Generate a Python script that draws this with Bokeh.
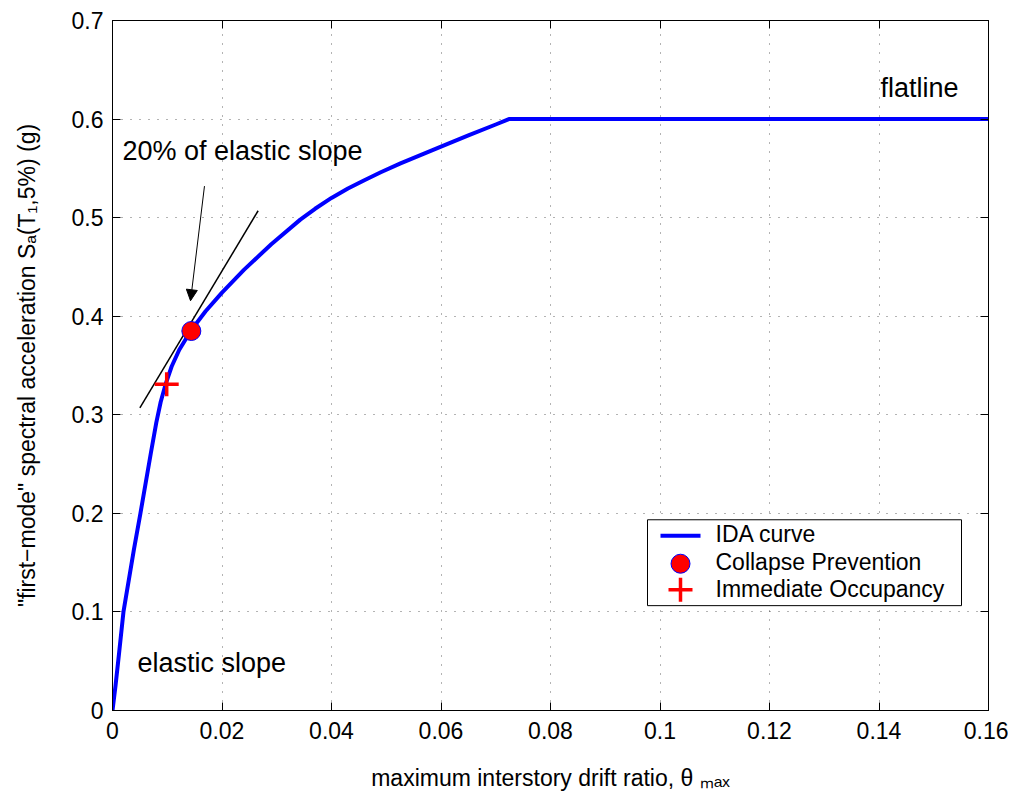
import math
from bokeh.plotting import figure
from bokeh.models import Range1d, LinearAxis, FixedTicker, Label, Arrow, NormalHead
from bokeh.embed import file_html
from bokeh.resources import INLINE

# ---------------- data ----------------
ida_x = [0.0, 0.00055, 0.0012, 0.0020, 0.0039, 0.0051, 0.0070, 0.0080, 0.0088, 0.0097,
         0.0108, 0.0122, 0.0144, 0.0170, 0.0200, 0.0240, 0.0290, 0.0343, 0.0370, 0.0400,
         0.0430, 0.0460, 0.0490, 0.0526, 0.0600, 0.0650, 0.0700, 0.0724, 0.16]
ida_y = [0.0, 0.025, 0.058, 0.100, 0.163, 0.200, 0.261, 0.292, 0.313, 0.331,
         0.349, 0.366, 0.386, 0.405, 0.424, 0.447, 0.473, 0.498, 0.509, 0.520,
         0.5295, 0.538, 0.546, 0.555, 0.572, 0.5835, 0.5945, 0.600, 0.600]
cp_x = [0.0144]
cp_y = [0.385]
io_x = [0.0099]
io_y = [0.331]
tangent_x = [0.0050, 0.0266]
tangent_y = [0.307, 0.507]
arrow_from = [0.0168, 0.532]
arrow_to = [0.01425, 0.4157]

x_ticks = [0.0, 0.02, 0.04, 0.06, 0.08, 0.10, 0.12, 0.14, 0.16]
x_tick_labels = ["0", "0.02", "0.04", "0.06", "0.08", "0.1", "0.12", "0.14", "0.16"]
y_ticks = [0.0, 0.1, 0.2, 0.3, 0.4, 0.5, 0.6, 0.7]
y_tick_labels = ["0", "0.1", "0.2", "0.3", "0.4", "0.5", "0.6", "0.7"]
legend_labels = ["IDA curve", "Collapse Prevention", "Immediate Occupancy"]
x_title = "maximum interstory drift ratio, \u03b8 \u2098\u2090\u2093"
y_title = '"first\u2212mode" spectral acceleration S\u2090(T\u2081,5%) (g)'

# ---------------- layout ----------------
FONT = "Liberation Sans"
L, R, T, B = 112, 20, 20, 82
W, H = 988 + R, 711 + B
XMIN, XMAX, YMIN, YMAX = 0.0, 0.16, 0.0, 0.7
FW, FH = W - L - R, H - T - B


def dx(px):  # picture pixel -> data x
    return XMIN + (px - L) / FW * (XMAX - XMIN)


def dy(py):  # picture pixel -> data y
    return YMIN + (H - B - py) / FH * (YMAX - YMIN)


p = figure(width=W, height=H, x_range=Range1d(XMIN, XMAX), y_range=Range1d(YMIN, YMAX),
           output_backend="svg", toolbar_location=None,
           min_border_left=L, min_border_right=R, min_border_top=T, min_border_bottom=B)
p.background_fill_color = "white"
p.border_fill_color = "white"
p.outline_line_color = "black"
p.outline_line_width = 1

for ax, ticks, labels in ((p.xaxis[0], x_ticks, x_tick_labels), (p.yaxis[0], y_ticks, y_tick_labels)):
    ax.ticker = FixedTicker(ticks=ticks)
    ax.major_label_overrides = {t: s for t, s in zip(ticks, labels)}
    ax.major_label_text_font = FONT
    ax.major_label_text_font_size = "23px"
    ax.major_label_text_color = "black"
    ax.major_tick_in = 8
    ax.major_tick_out = 0
    ax.major_tick_line_color = "black"
    ax.minor_tick_line_color = None
    ax.axis_line_color = "black"
    ax.axis_label_text_font = FONT
    ax.axis_label_text_font_size = "23px"
    ax.axis_label_text_font_style = "normal"
    ax.axis_label_text_color = "black"
p.xaxis.major_label_standoff = 11
p.yaxis.major_label_standoff = 9
p.xaxis.axis_label = x_title
p.yaxis.axis_label = y_title
p.xaxis.axis_label_standoff = 23
p.yaxis.axis_label_standoff = 29

for loc, ticks in (("above", x_ticks), ("right", y_ticks)):
    ax = LinearAxis(ticker=FixedTicker(ticks=ticks), major_tick_in=8, major_tick_out=0,
                    minor_tick_line_color=None, major_label_text_font_size="1px",
                    major_label_text_color=None, major_label_standoff=0,
                    axis_line_color="black")
    p.add_layout(ax, loc)

p.xgrid.ticker = FixedTicker(ticks=x_ticks)
p.ygrid.ticker = FixedTicker(ticks=y_ticks)
for g in (p.xgrid[0], p.ygrid[0]):
    g.grid_line_color = "black"
    g.grid_line_alpha = 0.6
    g.grid_line_width = 1
    g.grid_line_dash = "1 8"

# ---------------- marks ----------------
p.line(ida_x, ida_y, line_color="#0000ff", line_width=4, line_join="round")
p.line(tangent_x, tangent_y, line_color="black", line_width=1.5)
p.add_layout(Arrow(end=NormalHead(size=11, fill_color="black", line_color="black", line_width=1),
                   x_start=arrow_from[0], y_start=arrow_from[1],
                   x_end=arrow_to[0], y_end=arrow_to[1],
                   line_color="black", line_width=1))
p.scatter(cp_x, cp_y, marker="circle", size=19, fill_color="red", line_color="blue", line_width=1)
p.scatter(io_x, io_y, marker="cross", size=24, line_color="red", line_width=3.5)

# ---------------- annotations ----------------
def txt(px, py, s, size):
    p.add_layout(Label(x=dx(px), y=dy(py), text=s, text_font=FONT, text_font_size=size,
                       text_color="black", text_baseline="alphabetic", text_align="left"))

txt(122, 151, "20% of elastic slope", "27px")
txt(880, 88, "flatline", "27px")
txt(137, 663, "elastic slope", "27px")

# ---------------- legend (drawn box) ----------------
p.quad(left=[dx(647)], right=[dx(961)], bottom=[dy(606)], top=[dy(520)],
       fill_color="white", line_color="black", line_width=1)
p.line([dx(660), dx(700)], [dy(536), dy(536)], line_color="#0000ff", line_width=4)
p.scatter([dx(680)], [dy(564)], marker="circle", size=19, fill_color="red", line_color="blue", line_width=1)
p.scatter([dx(680)], [dy(590)], marker="cross", size=24, line_color="red", line_width=3.5)
for lab, base in zip(legend_labels, (534, 562, 589)):
    txt(715, base, lab, "23px")

open("out.html", "w").write(file_html(p, INLINE))
